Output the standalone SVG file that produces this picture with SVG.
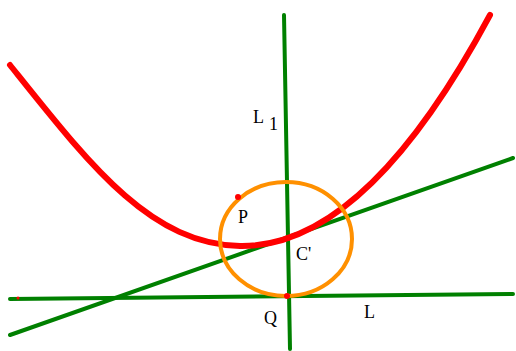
<svg xmlns="http://www.w3.org/2000/svg" width="516" height="351" viewBox="0 0 516 351">
<style>
.g{stroke:#008000;stroke-width:4;fill:none;stroke-linecap:round}
.t{font-family:"Liberation Serif",serif;font-size:18px;fill:#000}
.d{fill:#ff0000}
</style>
<rect width="516" height="351" fill="#fff"/>
<g id="connectors">
<line class="g" x1="284" y1="15" x2="290" y2="349"/>
<line class="g" x1="10" y1="299" x2="513" y2="294"/>
<line class="g" x1="10" y1="335" x2="513" y2="158"/>
</g>
<g id="parabola">
<path d="M10,65 C90,165 150,244 240,246 Q365,248 490,15" fill="none" stroke="#ff0000" stroke-width="6" stroke-linecap="round" stroke-linejoin="round"/>
</g>
<g id="circle">
<ellipse cx="286" cy="239" rx="66" ry="57" fill="none" stroke="#ff9000" stroke-width="4"/>
</g>
<g id="points">
<circle class="d" cx="238" cy="197" r="3"/>
<circle class="d" cx="288" cy="238" r="3"/>
<circle class="d" cx="287" cy="296" r="3"/>
<circle class="d" cx="18" cy="298" r="1.5"/>
</g>
<g id="labels">
<text class="t" x="253" y="123">L</text>
<text class="t" x="269" y="130">1</text>
<text class="t" x="238" y="223">P</text>
<text class="t" x="296" y="260">C'</text>
<text class="t" x="264" y="324">Q</text>
<text class="t" x="364" y="318">L</text>
</g>
</svg>
